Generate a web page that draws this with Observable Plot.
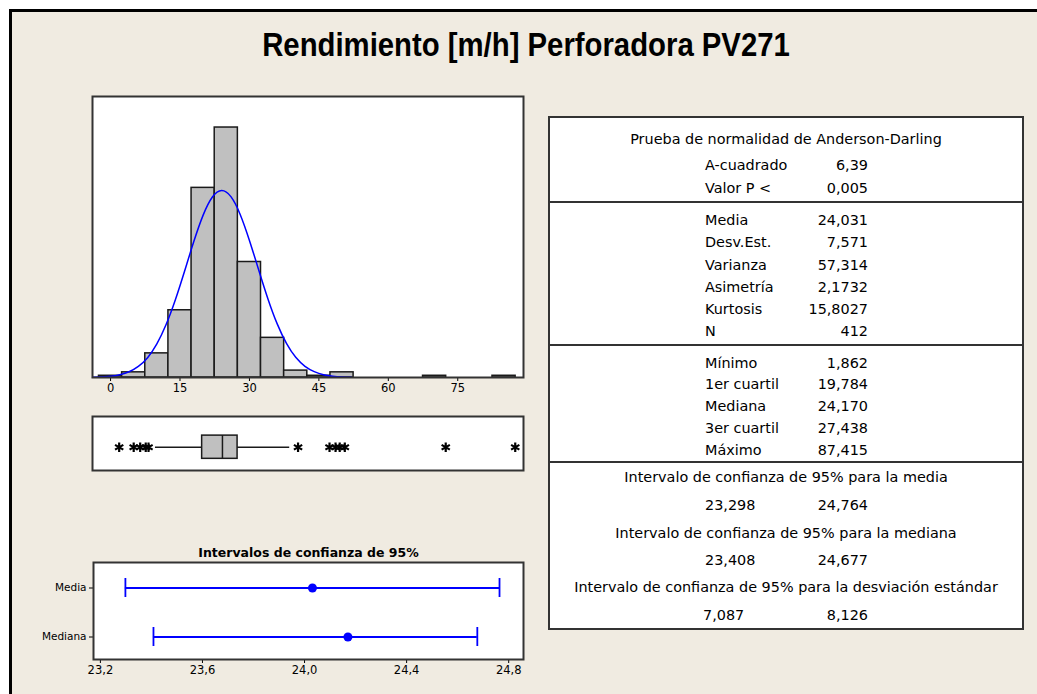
<!DOCTYPE html>
<html><head><meta charset="utf-8">
<script src="https://cdn.jsdelivr.net/npm/d3@7"></script>
<script src="https://cdn.jsdelivr.net/npm/@observablehq/plot@0.6"></script>
<style>
body{margin:0;background:#fff;width:1037px;height:694px;overflow:hidden;position:relative;font-family:"DejaVu Sans",sans-serif;}
#bg{position:absolute;left:9px;top:9px;width:1100px;height:800px;border-left:3px solid #000;border-top:3px solid #000;background:#F0EBE1;}
#title{position:absolute;left:0;width:1052px;top:24px;line-height:40px;text-align:center;font-family:"Liberation Sans Narrow","Liberation Sans",sans-serif;font-weight:bold;font-size:34px;color:#000;transform:scaleX(0.862);transform-origin:526px 50%;}
.abs{position:absolute}
#table{position:absolute;left:548px;top:116px;width:472px;height:510px;border:2px solid #333;background:#fff;font-size:14.4px;color:#000;}
.row{position:absolute;height:22px;line-height:22px;white-space:nowrap;}
.sep{position:absolute;left:0;width:100%;height:2px;background:#333;}
</style>
</head><body>
<div id="bg"></div>
<div id="title">Rendimiento [m/h] Perforadora PV271</div>
<div id="hist" class="abs" style="left:80px;top:90px"></div>
<div id="box" class="abs" style="left:80px;top:410px"></div>
<div id="ci" class="abs" style="left:30px;top:540px"></div>
<div id="table"></div>
<script>
// ---------- data ----------
const binWidth = 5;
const binCenters = [0, 5, 10, 15, 20, 25, 30, 35, 40, 45, 50, 70, 85];
const binCounts  = [1, 3, 14, 39, 110, 145, 67, 23, 4, 1, 3, 1, 1];

const curveX = [-3.9, 0, 2, 4, 6, 8, 10, 12, 14, 16, 18, 20, 22, 24, 26, 28, 30, 32, 34, 36, 38, 40, 42, 44, 46, 48, 50, 52];
const curveY = [0.12, 0.7, 1.6, 3.3, 6.4, 11.5, 19.5, 30.7, 45.1, 61.8, 79.0, 94.2, 104.7, 108.5, 104.9, 94.6, 79.5, 62.4, 45.6, 31.1, 19.8, 11.7, 6.5, 3.4, 1.6, 0.7, 0.3, 0.12];

const histTicks = [0, 15, 30, 45, 60, 75];

const boxStats = {lo: 9.7, q1: 19.784, median: 24.170, q3: 27.438, hi: 38.7};
const outliers = [1.862, 5.0, 6.4, 7.6, 8.2, 40.5, 47.3, 48.6, 49.5, 50.6, 72.4, 87.415];

const ciNames = ["Media", "Mediana"];
const ciLo  = [23.298, 23.408];
const ciEst = [24.031, 24.170];
const ciHi  = [24.764, 24.677];
const ciTicks = [23.2, 23.6, 24.0, 24.4, 24.8];
const ciTitle = "Intervalos de confianza de 95%";

const adTitle = "Prueba de normalidad de Anderson-Darling";
const adRows = [["A-cuadrado", "6,39"], ["Valor P <", "0,005"]];
const descRows = [["Media", "24,031"], ["Desv.Est.", "7,571"], ["Varianza", "57,314"], ["Asimetría", "2,1732"], ["Kurtosis", "15,8027"], ["N", "412"]];
const quartRows = [["Mínimo", "1,862"], ["1er cuartil", "19,784"], ["Mediana", "24,170"], ["3er cuartil", "27,438"], ["Máximo", "87,415"]];
const ciTableRows = [
  ["Intervalo de confianza de 95% para la media", "23,298", "24,764"],
  ["Intervalo de confianza de 95% para la mediana", "23,408", "24,677"],
  ["Intervalo de confianza de 95% para la desviación estándar", "7,087", "8,126"]
];

// ---------- charts ----------
const font = '"DejaVu Sans",sans-serif';
const baseStyle = {fontFamily: font, fontSize: "11.5px", background: "none", color: "#000", overflow: "visible"};
const xDomain = [-3.9, 89.2];
const comma1 = d => d.toFixed(1).replace(".", ",");

const bins = binCenters.map((c, i) => ({x1: c - binWidth / 2, x2: c + binWidth / 2, y: binCounts[i]}));
const curve = curveX.map((x, i) => ({x, y: curveY[i]}));

const hist = Plot.plot({
  width: 460, height: 320,
  marginLeft: 12, marginRight: 17, marginTop: 6, marginBottom: 33,
  style: baseStyle,
  x: {domain: xDomain, ticks: histTicks, tickSize: 4, tickPadding: 2, label: null},
  y: {domain: [0, 163], axis: null},
  marks: [
    Plot.frame({fill: "#fff", stroke: "none"}),
    Plot.rectY(bins, {x1: "x1", x2: "x2", y: "y", fill: "#C0C0C0", stroke: "#1a1a1a", strokeWidth: 1.5}),
    Plot.line(curve, {x: "x", y: "y", stroke: "#0000FF", strokeWidth: 1.5, curve: "natural"}),
    Plot.frame({stroke: "#333", strokeWidth: 2})
  ]
});
document.getElementById("hist").append(hist);

const box = Plot.plot({
  width: 460, height: 66,
  marginLeft: 12, marginRight: 17, marginTop: 6, marginBottom: 6,
  style: baseStyle,
  x: {domain: xDomain, axis: null},
  y: {domain: [-0.862, 1.138], axis: null},
  marks: [
    Plot.frame({fill: "#fff", stroke: "none"}),
    Plot.ruleY([boxStats], {y: () => 0, x1: "lo", x2: "q1", stroke: "#1a1a1a", strokeWidth: 1.5}),
    Plot.ruleY([boxStats], {y: () => 0, x1: "q3", x2: "hi", stroke: "#1a1a1a", strokeWidth: 1.5}),
    Plot.rect([boxStats], {x1: "q1", x2: "q3", y1: () => -0.43, y2: () => 0.43, fill: "#C0C0C0", stroke: "#1a1a1a", strokeWidth: 1.5}),
    Plot.ruleX([boxStats], {x: "median", y1: () => -0.43, y2: () => 0.43, stroke: "#1a1a1a", strokeWidth: 1.5}),
    Plot.dot(outliers, {x: d => d, y: () => 0, symbol: "asterisk", r: 4.5, stroke: "#000", strokeWidth: 2.2}),
    Plot.frame({stroke: "#333", strokeWidth: 2})
  ]
});
document.getElementById("box").append(box);

const ciData = ciNames.map((name, i) => ({name, lo: ciLo[i], est: ciEst[i], hi: ciHi[i]}));
const blue = "#0000FF";
const ci = Plot.plot({
  width: 510, height: 154,
  marginLeft: 63, marginRight: 17, marginTop: 22, marginBottom: 35,
  style: baseStyle,
  x: {domain: [23.173, 24.858], ticks: ciTicks, tickFormat: comma1, tickSize: 4, tickPadding: 2, label: null},
  y: {type: "band", domain: ciNames, range: [23.2, 121.2], padding: 0, tickSize: 4, tickPadding: 3, label: null},
  marks: [
    Plot.frame({fill: "#fff", stroke: "none"}),
    Plot.ruleY(ciData, {y: "name", x1: "lo", x2: "hi", stroke: blue, strokeWidth: 1.8}),
    Plot.tickX(ciData, {x: "lo", y: "name", insetTop: 15, insetBottom: 15, stroke: blue, strokeWidth: 1.8}),
    Plot.tickX(ciData, {x: "hi", y: "name", insetTop: 15, insetBottom: 15, stroke: blue, strokeWidth: 1.8}),
    Plot.dot(ciData, {x: "est", y: "name", r: 4.5, fill: blue}),
    Plot.text([ciTitle], {frameAnchor: "top", dy: -14, fontWeight: "bold", fontSize: 12.5, fill: "#000"}),
    Plot.frame({stroke: "#333", strokeWidth: 2})
  ]
});
d3.select(ci).selectAll('[aria-label^="y-axis"] text').attr("font-size", 10.5);
document.getElementById("ci").append(ci);

// ---------- table ----------
const T = document.getElementById("table");
const ox = 550, oy = 118; // inner origin of table box
function addRow(text, cy, opts = {}) {
  const d = document.createElement("div");
  d.className = "row";
  d.textContent = text;
  d.style.top = (cy - 11 - oy) + "px";
  if (opts.center) { d.style.left = "0"; d.style.width = "100%"; d.style.textAlign = "center"; }
  else if (opts.right) { d.style.left = (opts.right - ox - 170) + "px"; d.style.width = "170px"; d.style.textAlign = "right"; }
  else { d.style.left = (opts.left - ox) + "px"; }
  T.append(d);
}
function addSep(y) {
  const s = document.createElement("div");
  s.className = "sep";
  s.style.top = (y - oy) + "px";
  T.append(s);
}
const labelX = 705, valueR = 868;
addRow(adTitle, 138.5, {center: true});
[165, 188].forEach((cy, i) => { addRow(adRows[i][0], cy, {left: labelX}); addRow(adRows[i][1], cy, {right: valueR}); });
addSep(200.5);
[220, 242, 264.5, 287, 309, 330.5].forEach((cy, i) => { addRow(descRows[i][0], cy, {left: labelX}); addRow(descRows[i][1], cy, {right: valueR}); });
addSep(343.5);
[363, 384, 406, 428, 449.5].forEach((cy, i) => { addRow(quartRows[i][0], cy, {left: labelX}); addRow(quartRows[i][1], cy, {right: valueR}); });
addSep(461);
[[477, 505], [533, 559.5], [587, 614.5]].forEach(([ty, vy], i) => {
  addRow(ciTableRows[i][0], ty, {center: true});
  addRow(ciTableRows[i][1], vy, {left: labelX - (i === 2 ? 2 : 0)});
  addRow(ciTableRows[i][2], vy, {right: valueR});
});
</script>
</body></html>
